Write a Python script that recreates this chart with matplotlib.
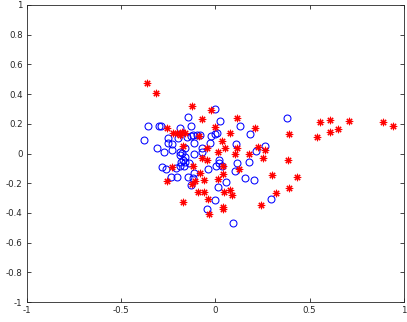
import numpy as np
import matplotlib
matplotlib.use("Agg")
import matplotlib.pyplot as plt

# red asterisks
red_x = [-0.364, -0.316, -0.125, -0.025, -0.071, 0.115, -0.256, 0.212, 0.0, 0.078,
         0.389, 0.557, 0.610, 0.710, 0.610, 0.652, 0.539, 0.887, 0.940, -0.226,
         -0.205, -0.178, -0.160, -0.186, -0.088, 0.034, 0.049, 0.228, 0.263, 0.251,
         0.180, 0.102, 0.115, 0.016, -0.044, -0.173, -0.069, -0.046, 0.387, 0.042,
         0.127, -0.228, -0.120, 0.300, 0.431, 0.041, -0.081, -0.258, -0.110, -0.062,
         0.012, -0.125, -0.090, -0.062, 0.046, 0.078, 0.090, 0.320, 0.389, -0.037,
         -0.171, 0.041, 0.041, 0.244, -0.034]
red_y = [0.478, 0.406, 0.323, 0.294, 0.235, 0.238, 0.175, 0.170, 0.179, 0.141,
         0.130, 0.211, 0.226, 0.222, 0.143, 0.166, 0.112, 0.213, 0.182, 0.137,
         0.141, 0.148, 0.137, 0.126, 0.119, 0.083, 0.036, 0.047, 0.025, -0.029,
         0.0, -0.004, 0.040, 0.013, 0.036, 0.052, -0.031, -0.045, -0.047, -0.081,
         -0.105, -0.092, -0.087, -0.148, -0.155, -0.137, -0.132, -0.182, -0.186, -0.179,
         -0.173, -0.206, -0.262, -0.260, -0.258, -0.249, -0.278, -0.267, -0.233, -0.303,
         -0.325, -0.359, -0.374, -0.348, -0.404]

# blue circles
blue_x = [0.0, -0.147, 0.025, 0.382, -0.355, -0.297, -0.290, -0.129, 0.129, -0.186,
          0.184, -0.080, -0.099, -0.118, -0.025, 0.009, -0.002, -0.253, -0.196, -0.152,
          -0.127, -0.113, -0.027, -0.251, -0.228, -0.380, -0.311, -0.272, -0.228, -0.159,
          -0.187, -0.071, -0.071, 0.110, 0.263, 0.216, -0.113, -0.178, -0.187, -0.162,
          -0.171, -0.159, -0.180, -0.166, -0.189, 0.018, 0.019, -0.141, 0.004, 0.034,
          0.115, 0.180, -0.283, -0.263, -0.208, -0.037, 0.102, -0.111, -0.237, -0.205,
          -0.143, -0.118, 0.155, 0.205, 0.057, -0.129, 0.014, 0.0, -0.044, 0.297,
          0.095]
blue_y = [0.300, 0.247, 0.222, 0.240, 0.186, 0.186, 0.186, 0.188, 0.186, 0.170,
          0.130, 0.126, 0.126, 0.126, 0.119, 0.135, 0.131, 0.105, 0.105, 0.110,
          0.115, 0.074, 0.074, 0.070, 0.063, 0.092, 0.036, 0.007, 0.025, 0.036,
          0.013, 0.036, 0.013, 0.065, 0.052, 0.020, -0.002, 0.004, -0.011, -0.022,
          -0.043, -0.054, -0.058, -0.083, -0.087, -0.045, -0.065, -0.061, -0.081, -0.081,
          -0.065, -0.056, -0.092, -0.101, -0.099, -0.105, -0.117, -0.128, -0.155, -0.161,
          -0.161, -0.166, -0.166, -0.179, -0.195, -0.215, -0.224, -0.314, -0.374, -0.305,
          -0.469]

x_ticks = [-1, -0.5, 0, 0.5, 1]
y_ticks = [-1, -0.8, -0.6, -0.4, -0.2, 0, 0.2, 0.4, 0.6, 0.8, 1]

fig = plt.figure(figsize=(4.07, 3.22), dpi=100)
ax = fig.add_axes([0.0656, 0.062, 0.927, 0.9225])

ax.plot(blue_x, blue_y, linestyle='none', marker='o', markersize=5,
        markerfacecolor='none', markeredgecolor='blue', markeredgewidth=0.75)
ax.plot(red_x, red_y, linestyle='none', marker=(8, 2, 0), markersize=5.3,
        color='red', markeredgecolor='red', markeredgewidth=0.8)

ax.set_xlim(-1, 1)
ax.set_ylim(-1, 1)
ax.set_xticks(x_ticks)
ax.set_yticks(y_ticks)
ax.set_xticklabels(['-1', '-0.5', '0', '0.5', '1'])
ax.set_yticklabels(['-1', '-0.8', '-0.6', '-0.4', '-0.2', '0', '0.2', '0.4', '0.6', '0.8', '1'])

for s in ax.spines.values():
    s.set_color('#262626')
    s.set_linewidth(0.6)
ax.tick_params(direction='in', length=3, width=0.6, colors='#262626',
               labelsize=6.2, top=True, right=True, pad=3)

fig.savefig('out.png', dpi=100)
